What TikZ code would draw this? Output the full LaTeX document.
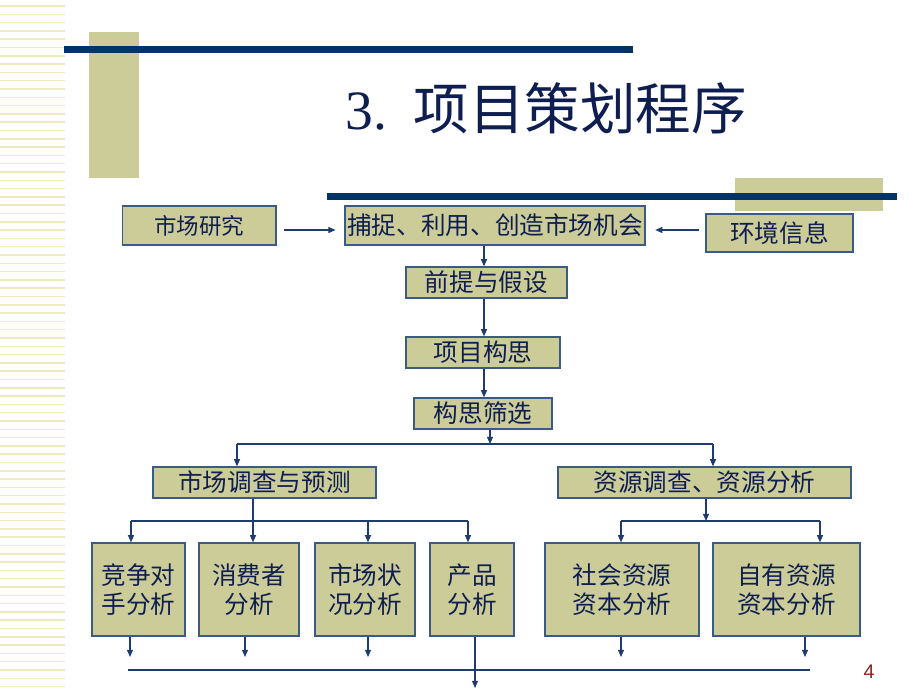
\documentclass[tikz,border=0pt]{standalone}
\usepackage{fontspec}
\setmainfont{Liberation Serif}
\newfontfamily\cjk{Noto Sans CJK SC}
\newfontfamily\pagefont{Liberation Sans}
\usetikzlibrary{arrows.meta}

\definecolor{boxtan}{RGB}{204,204,153}
\definecolor{barnavy}{RGB}{0,51,102}
\definecolor{edgeblue}{RGB}{60,90,135}
\definecolor{inkblue}{RGB}{15,30,80}
\definecolor{linkblue}{RGB}{30,60,110}
\definecolor{pagered}{RGB}{150,30,30}
\definecolor{stripe}{RGB}{240,234,192}

\tikzset{
  box/.style={draw=edgeblue, fill=boxtan, line width=0.9pt, inner sep=0pt,
    text=inkblue, font=\cjk\fontsize{17.5}{21}\selectfont},
  tallbox/.style={box, align=center, minimum height=2.325cm},
  link/.style={draw=linkblue, line width=0.8pt},
  arr/.style={link, -{Triangle[length=1.8mm,width=1.5mm]}},
}

\begin{document}
\begin{tikzpicture}[x=0.025cm, y=-0.025cm]
    \fill[white] (0,0) rectangle (920,690);
    \useasboundingbox (0,0) rectangle (920,690);

    % left stripes
    \foreach \y in {6,14.3,...,690}
        \draw[stripe, line width=1.1pt] (0,\y) -- (65,\y);

    % title bars
    \fill[boxtan] (89,32) rectangle (139,178);
    \fill[barnavy] (64,46) rectangle (633,53);
    \fill[boxtan] (735,178) rectangle (883,211);
    \fill[barnavy] (327,193) rectangle (897,200);

    \node[anchor=base west, inner sep=0pt, text=inkblue, font=\fontsize{39.5}{44}\selectfont]
        (title) at (345,130) {3.\hspace{19pt}{\cjk 项目策划程序}};

    % top row
    \node[box, minimum width=3.83cm,  minimum height=0.975cm,
          font=\cjk\fontsize{16}{19}\selectfont]           (shichang) at (199.4,225.5) {市场研究};
    \node[box, minimum width=7.5cm,   minimum height=0.975cm] (buzhuo)   at (495,225.5) {捕捉、利用、创造市场机会};
    \node[box, minimum width=3.675cm, minimum height=0.95cm]  (huanjing) at (779.5,233) {环境信息};

    % middle column
    \node[box, minimum width=4.025cm, minimum height=0.775cm] (qianti)   at (486.5,282.5) {前提与假设};
    \node[box, minimum width=3.85cm,  minimum height=0.775cm] (gousi)    at (483,352.5)   {项目构思};
    \node[box, minimum width=3.45cm,  minimum height=0.775cm] (shaixuan) at (483,413.5)   {构思筛选};

    % second level
    \node[box, minimum width=5.575cm, minimum height=0.775cm] (diaocha) at (264.5,482.5) {市场调查与预测};
    \node[box, minimum width=7.325cm, minimum height=0.775cm] (ziyuan)  at (704.5,482.5) {资源调查、资源分析};

    % bottom row
    \node[tallbox, minimum width=2.325cm] (jingzheng)   at (138.5,589.5) {竞争对\\手分析};
    \node[tallbox, minimum width=2.5cm]   (xiaofei)     at (249,589.5)   {消费者\\分析};
    \node[tallbox, minimum width=2.5cm]   (zhuangkuang) at (365,589.5)   {市场状\\况分析};
    \node[tallbox, minimum width=2.1cm]   (chanpin)     at (472,589.5)   {产品\\分析};
    \node[tallbox, minimum width=3.85cm]  (shehui)      at (622,589.5)   {社会资源\\资本分析};
    \node[tallbox, minimum width=3.675cm] (ziyou)       at (786.5,589.5) {自有资源\\资本分析};

    % inputs
    \coordinate (row) at (0,230);
    \draw[arr, shorten <=1.8mm, shorten >=2.2mm] (shichang.east |- row) -- (buzhuo.west |- row);
    \draw[arr, shorten <=1.7mm, shorten >=2.4mm] (huanjing.west |- row) -- (buzhuo.east |- row);

    % spine
    \coordinate (spine) at (484,0);
    \draw[arr] (buzhuo.south -| spine) -- (qianti.north -| spine);
    \draw[arr] (qianti.south -| spine) -- (gousi.north -| spine);
    \draw[arr] (gousi.south -| spine) -- (shaixuan.north -| spine);

    % first split
    \coordinate (fork)  at (490,444);
    \coordinate (forkL) at (237,444);
    \coordinate (forkR) at (713,444);
    \draw[arr] (shaixuan.south -| fork) -- (fork);
    \draw[link] (forkL) -- (forkR);
    \draw[arr] (forkL) -- (diaocha.north -| forkL);
    \draw[arr] (forkR) -- (ziyuan.north -| forkR);

    % market split
    \coordinate (busL1) at (131,521);
    \coordinate (busL2) at (253,521);
    \coordinate (busL3) at (368,521);
    \coordinate (busL4) at (468,521);
    \draw[link] (busL1) -- (busL4);
    \draw[arr] (diaocha.south -| busL2) -- (xiaofei.north -| busL2);
    \draw[arr] (busL1) -- (jingzheng.north -| busL1);
    \draw[arr] (busL3) -- (zhuangkuang.north -| busL3);
    \draw[arr] (busL4) -- (chanpin.north -| busL4);

    % resource split
    \coordinate (busR0) at (706,521);
    \coordinate (busR1) at (621,521);
    \coordinate (busR2) at (820,521);
    \draw[arr] (ziyuan.south -| busR0) -- (busR0);
    \draw[link] (busR1) -- (busR2);
    \draw[arr] (busR1) -- (shehui.north -| busR1);
    \draw[arr] (busR2) -- (ziyou.north -| busR2);

    % outputs
    \foreach \b/\x in {jingzheng/130, xiaofei/245, zhuangkuang/368, shehui/621, ziyou/805}
        \draw[arr] (\b.south -| \x,0) -- (\x,657);
    \coordinate (sumL) at (128,670);
    \coordinate (sumR) at (810,670);
    \draw[link] (sumL) -- (sumR);
    \draw[arr] (chanpin.south -| 475,0) -- (475,688);

    \node[text=pagered, font=\pagefont\fontsize{14}{14}\selectfont] (pagenum) at (869,672) {4};
\end{tikzpicture}
\end{document}
